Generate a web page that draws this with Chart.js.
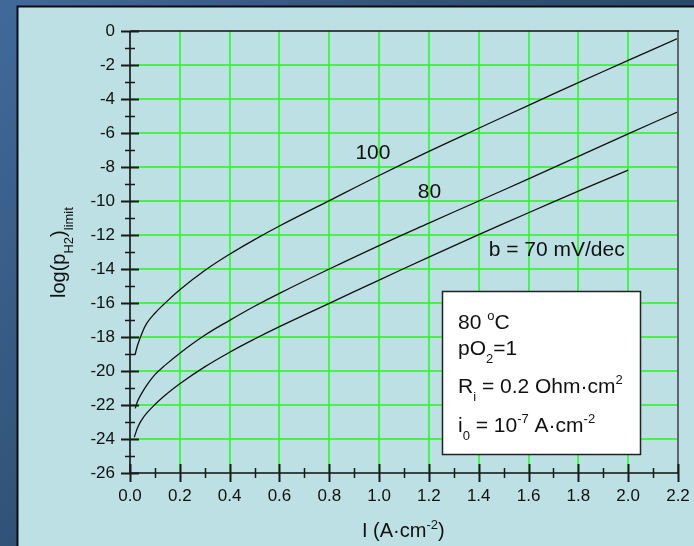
<!DOCTYPE html>
<html><head><meta charset="utf-8">
<script src="https://cdn.jsdelivr.net/npm/chart.js@4/dist/chart.umd.min.js"></script>
<style>html,body{margin:0;padding:0;background:#2d4a6a;overflow:hidden}#c{display:block}</style>
</head><body>
<canvas id="c" width="694" height="546"></canvas>
<script>
// ---- data ----
const xTicks = [0.0,0.2,0.4,0.6,0.8,1.0,1.2,1.4,1.6,1.8,2.0,2.2];
const yTicks = [0,-2,-4,-6,-8,-10,-12,-14,-16,-18,-20,-22,-24,-26];

const x100 = [0.02,0.03,0.045,0.067,0.1,0.134,0.2,0.3,0.4,0.5,0.6,0.8,1.0,1.2,1.4,1.6,1.8,2.0,2.2];
const y100 = [-19.06,-18.5,-17.89,-17.2,-16.6,-16.1,-15.22,-14.09,-13.13,-12.27,-11.47,-9.98,-8.5,-7.08,-5.72,-4.37,-3.04,-1.73,-0.43];

const x80 = [0.021,0.03,0.045,0.067,0.1,0.134,0.2,0.3,0.4,0.5,0.6,0.8,1.0,1.2,1.4,1.6,1.8,2.0,2.2];
const y80 = [-22.2,-21.8,-21.36,-20.84,-20.21,-19.75,-18.95,-17.9,-17.02,-16.19,-15.43,-14.0,-12.62,-11.3,-10.0,-8.7,-7.38,-6.05,-4.75];

const x70 = [0.017,0.03,0.045,0.067,0.1,0.134,0.2,0.3,0.4,0.5,0.6,0.8,1.0,1.2,1.4,1.6,1.8,2.0];
const y70 = [-23.9,-23.35,-22.92,-22.48,-21.97,-21.51,-20.75,-19.76,-18.9,-18.12,-17.39,-16.02,-14.65,-13.3,-11.98,-10.69,-9.42,-8.18];

const curveLabels = [
  {text:'100', x:0.905, y:-7.53},
  {text:'80', x:1.155, y:-9.82},
  {text:'b = 70 mV/dec', x:1.44, y:-13.24}
];

const FONT = "'Liberation Sans', Arial, Helvetica, sans-serif";
const pts = (xs, ys) => xs.map((x, i) => ({x, y: ys[i]}));

function drawRich(ctx, x, y, parts, size, small) {
  let cx = x;
  for (const p of parts) {
    const s = (p.sup || p.sub) ? small : size;
    ctx.font = s + 'px ' + FONT;
    const dy = p.sup ? -size * 0.42 : (p.sub ? size * 0.4 : 0);
    ctx.fillText(p.t, cx, y + dy);
    cx += ctx.measureText(p.t).width;
  }
}

const decor = {
  id: 'decor',
  beforeDraw(chart) {
    const ctx = chart.ctx;
    ctx.save();
    const g = ctx.createLinearGradient(0, 0, 694, 546);
    g.addColorStop(0, '#41699a');
    g.addColorStop(0.45, '#2f4f72');
    g.addColorStop(1, '#233c58');
    ctx.fillStyle = g;
    ctx.fillRect(0, 0, 694, 546);
    ctx.fillStyle = '#bce0e3';
    ctx.fillRect(17, 6, 677, 540);
    ctx.strokeStyle = '#0c0c14';
    ctx.lineWidth = 2;
    ctx.beginPath();
    ctx.moveTo(17.5, 546); ctx.lineTo(17.5, 6.5); ctx.lineTo(694, 6.5);
    ctx.stroke();
    ctx.restore();
  },
  beforeDatasetsDraw(chart) {
    const ctx = chart.ctx;
    const xs = chart.scales.x, ys = chart.scales.y;
    const a = chart.chartArea;
    ctx.save();
    ctx.strokeStyle = '#4cf04c';
    ctx.lineWidth = 2;
    for (const v of yTicks.slice(1, -1)) {
      const p = Math.round(ys.getPixelForValue(v));
      ctx.beginPath(); ctx.moveTo(a.left, p); ctx.lineTo(a.right, p); ctx.stroke();
    }
    ctx.strokeStyle = '#22ff22';
    ctx.lineWidth = 1.6;
    for (const v of xTicks.slice(1, -1)) {
      const p = Math.round(xs.getPixelForValue(v));
      ctx.beginPath(); ctx.moveTo(p, a.top); ctx.lineTo(p, a.bottom); ctx.stroke();
    }
    ctx.restore();
  },
  afterDraw(chart) {
    const ctx = chart.ctx;
    const xs = chart.scales.x, ys = chart.scales.y;
    const a = chart.chartArea;
    ctx.save();
    // frame
    ctx.lineWidth = 2;
    ctx.strokeStyle = '#5a676c';
    ctx.beginPath(); ctx.moveTo(a.right, a.top); ctx.lineTo(a.right, a.bottom); ctx.stroke();
    ctx.strokeStyle = '#111';
    ctx.lineWidth = 1.6;
    ctx.beginPath(); ctx.moveTo(a.left, a.top); ctx.lineTo(a.right + 1, a.top); ctx.stroke();
    ctx.beginPath(); ctx.moveTo(a.left, a.top); ctx.lineTo(a.left, a.bottom); ctx.lineTo(a.right, a.bottom); ctx.stroke();
    // y ticks
    ctx.strokeStyle = '#1a1a1a';
    for (let i = 0; i < yTicks.length; i++) {
      const p = Math.round(ys.getPixelForValue(yTicks[i])) + 0.5;
      ctx.lineWidth = 2;
      ctx.beginPath(); ctx.moveTo(a.left - 9, p); ctx.lineTo(a.left + 9, p); ctx.stroke();
      if (i < yTicks.length - 1) {
        const m = Math.round(ys.getPixelForValue((yTicks[i] + yTicks[i + 1]) / 2)) + 0.5;
        ctx.lineWidth = 1.5;
        ctx.beginPath(); ctx.moveTo(a.left - 5, m); ctx.lineTo(a.left + 5, m); ctx.stroke();
      }
    }
    // x ticks
    for (let i = 0; i < xTicks.length; i++) {
      const p = Math.round(xs.getPixelForValue(xTicks[i])) + 0.5;
      ctx.lineWidth = 2;
      ctx.beginPath(); ctx.moveTo(p, a.bottom - 9); ctx.lineTo(p, a.bottom + 9); ctx.stroke();
      if (i < xTicks.length - 1) {
        const m = Math.round(xs.getPixelForValue((xTicks[i] + xTicks[i + 1]) / 2)) + 0.5;
        ctx.lineWidth = 1.5;
        ctx.beginPath(); ctx.moveTo(m, a.bottom - 5); ctx.lineTo(m, a.bottom + 5); ctx.stroke();
      }
    }
    // curve labels
    ctx.fillStyle = '#111';
    ctx.textBaseline = 'alphabetic';
    ctx.textAlign = 'left';
    ctx.font = '21px ' + FONT;
    for (const l of curveLabels) {
      ctx.fillText(l.text, xs.getPixelForValue(l.x), ys.getPixelForValue(l.y));
    }
    // info box
    ctx.fillStyle = '#ffffff';
    ctx.fillRect(442, 291, 199, 164);
    ctx.strokeStyle = '#222';
    ctx.lineWidth = 1.5;
    ctx.strokeRect(442.5, 291.5, 198, 163);
    ctx.fillStyle = '#111';
    drawRich(ctx, 458, 329, [{t:'80 '},{t:'o',sup:true},{t:'C'}], 21, 13);
    drawRich(ctx, 458, 355, [{t:'pO'},{t:'2',sub:true},{t:'=1'}], 21, 13);
    drawRich(ctx, 458, 393, [{t:'R'},{t:'i',sub:true},{t:' = 0.2 Ohm·cm'},{t:'2',sup:true}], 21, 13);
    drawRich(ctx, 458, 432, [{t:'i'},{t:'0',sub:true},{t:' = 10'},{t:'-7',sup:true},{t:' A·cm'},{t:'-2',sup:true}], 21, 13);
    // axis titles
    drawRich(ctx, 362, 537, [{t:'I (A·cm'},{t:'-2',sup:true},{t:')'}], 20, 13);
    ctx.save();
    ctx.translate(65, 298);
    ctx.rotate(-Math.PI / 2);
    drawRich(ctx, 0, 0, [{t:'log(p'},{t:'H2',sub:true},{t:')'},{t:'limit',sub:true}], 20, 13);
    ctx.restore();
    ctx.restore();
  }
};

const lineStyle = {borderColor:'#111', borderWidth:1.3, pointRadius:0, showLine:true, fill:false, tension:0.4};

new Chart(document.getElementById('c'), {
  type: 'scatter',
  data: {
    datasets: [
      Object.assign({label:'100', data: pts(x100, y100)}, lineStyle),
      Object.assign({label:'80', data: pts(x80, y80)}, lineStyle),
      Object.assign({label:'70', data: pts(x70, y70)}, lineStyle)
    ]
  },
  options: {
    responsive: false,
    animation: false,
    devicePixelRatio: 1,
    layout: {padding: {top: 31, right: 16, left: 0, bottom: 0}},
    plugins: {legend: {display: false}, tooltip: {enabled: false}},
    scales: {
      x: {
        type: 'linear', min: 0, max: 2.2, position: 'bottom',
        afterBuildTicks: s => { s.ticks = xTicks.map(v => ({value: v})); },
        afterFit: s => { s.height = 73; s.paddingLeft = 0; s.paddingRight = 0; },
        ticks: {callback: v => Number(v).toFixed(1), font: {family: FONT, size: 17}, color: '#111', padding: 13, maxRotation: 0, autoSkip: false},
        grid: {display: false, drawTicks: false},
        border: {display: false}
      },
      y: {
        type: 'linear', min: -26, max: 0, position: 'left',
        afterBuildTicks: s => { s.ticks = yTicks.map(v => ({value: v})); },
        afterFit: s => { s.width = 130; s.paddingTop = 0; s.paddingBottom = 0; },
        ticks: {callback: v => String(v), font: {family: FONT, size: 17}, color: '#111', padding: 15, autoSkip: false},
        grid: {display: false, drawTicks: false},
        border: {display: false}
      }
    }
  },
  plugins: [decor]
});
</script>
</body></html>
